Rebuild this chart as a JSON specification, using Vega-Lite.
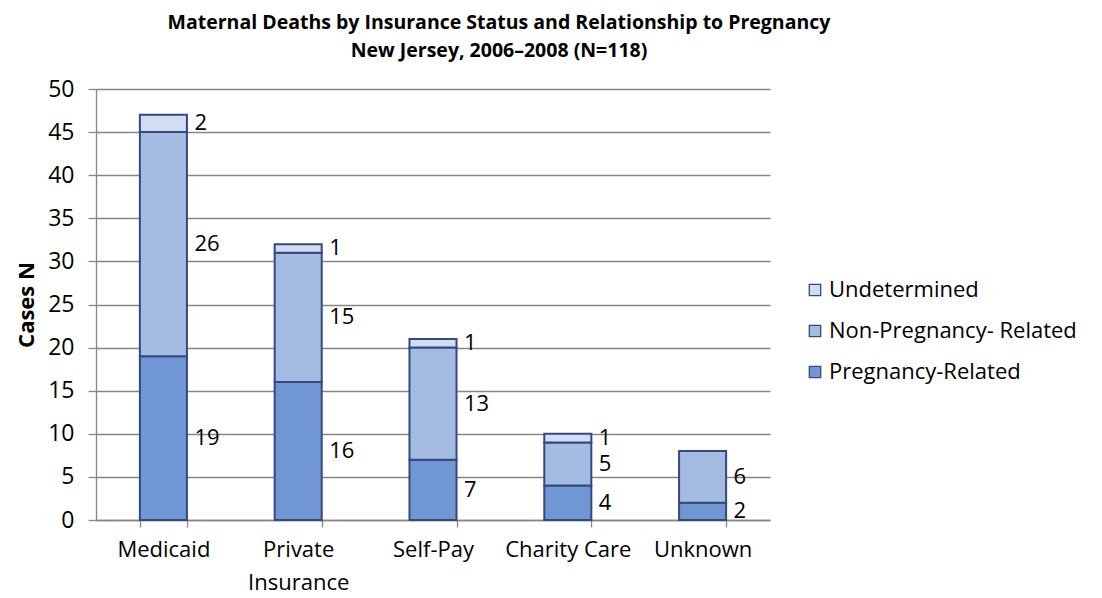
{
  "$schema": "https://vega.github.io/schema/vega-lite/v6.json",
  "width": 674,
  "height": 431,
  "autosize": "none",
  "padding": {"left": 96, "top": 89, "right": 332, "bottom": 78},
  "background": "white",
  "config": {
    "font": "Open Sans",
    "view": {"stroke": null}
  },
  "title": {
    "text": ["Maternal Deaths by Insurance Status and Relationship to Pregnancy", "New Jersey, 2006–2008 (N=118)"],
    "font": "Open Sans",
    "fontSize": 19.5,
    "fontWeight": "bold",
    "lineHeight": 28,
    "color": "#000000",
    "anchor": "middle",
    "frame": "group",
    "dx": 66,
    "offset": 17
  },
  "data": {
    "values": [
      {"ins": "Medicaid", "type": "Pregnancy-Related", "seq": 1, "n": 19},
      {"ins": "Medicaid", "type": "Non-Pregnancy- Related", "seq": 2, "n": 26},
      {"ins": "Medicaid", "type": "Undetermined", "seq": 3, "n": 2},
      {"ins": "Private Insurance", "type": "Pregnancy-Related", "seq": 1, "n": 16},
      {"ins": "Private Insurance", "type": "Non-Pregnancy- Related", "seq": 2, "n": 15},
      {"ins": "Private Insurance", "type": "Undetermined", "seq": 3, "n": 1},
      {"ins": "Self-Pay", "type": "Pregnancy-Related", "seq": 1, "n": 7},
      {"ins": "Self-Pay", "type": "Non-Pregnancy- Related", "seq": 2, "n": 13},
      {"ins": "Self-Pay", "type": "Undetermined", "seq": 3, "n": 1},
      {"ins": "Charity Care", "type": "Pregnancy-Related", "seq": 1, "n": 4},
      {"ins": "Charity Care", "type": "Non-Pregnancy- Related", "seq": 2, "n": 5},
      {"ins": "Charity Care", "type": "Undetermined", "seq": 3, "n": 1},
      {"ins": "Unknown", "type": "Pregnancy-Related", "seq": 1, "n": 2},
      {"ins": "Unknown", "type": "Non-Pregnancy- Related", "seq": 2, "n": 6}
    ]
  },
  "transform": [
    {"stack": "n", "groupby": ["ins"], "sort": [{"field": "seq", "order": "ascending"}], "as": ["y0", "y1"]},
    {"calculate": "(datum.y0 + datum.y1) / 2", "as": "mid"}
  ],
  "encoding": {
    "x": {
      "field": "ins",
      "type": "nominal",
      "sort": null,
      "scale": {"paddingInner": 0.651, "paddingOuter": 0.3255},
      "axis": {
        "title": null,
        "labelAngle": 0,
        "labelFont": "Open Sans",
        "labelFontSize": 22,
        "labelColor": "#000000",
        "labelPadding": 12,
        "labelLineHeight": 33,
        "labelBaseline": "top",
        "labelExpr": "datum.label == 'Private Insurance' ? ['Private', 'Insurance'] : datum.label",
        "tickBand": "extent",
        "tickSize": 7,
        "tickColor": "#868686",
        "tickWidth": 1.3,
        "domainColor": "#868686",
        "domainWidth": 1.3,
        "grid": false
      }
    }
  },
  "layer": [
    {
      "mark": {"type": "bar", "stroke": "#34497F", "strokeWidth": 2},
      "encoding": {
        "y": {
          "field": "y0",
          "type": "quantitative",
          "scale": {"domain": [0, 50]},
          "axis": {
            "title": "Cases N",
            "titleFont": "Open Sans",
            "titleFontSize": 22,
            "titleFontWeight": "bold",
            "titleColor": "#000000",
            "titlePadding": 9,
            "values": [0, 5, 10, 15, 20, 25, 30, 35, 40, 45, 50],
            "labelFont": "Open Sans",
            "labelFontSize": 23,
            "labelColor": "#000000",
            "labelPadding": 14,
            "tickSize": 8,
            "tickColor": "#868686",
            "tickWidth": 1.3,
            "domainColor": "#868686",
            "domainWidth": 1.3,
            "grid": true,
            "gridColor": "#868686",
            "gridWidth": 1.3
          }
        },
        "y2": {"field": "y1"},
        "color": {
          "field": "type",
          "type": "nominal",
          "scale": {
            "domain": ["Undetermined", "Non-Pregnancy- Related", "Pregnancy-Related"],
            "range": ["#D1DDF0", "#A4BBE2", "#7096D3"]
          },
          "legend": {
            "title": null,
            "orient": "none",
            "legendX": 708,
            "legendY": 190,
            "symbolType": "square",
            "symbolSize": 130,
            "symbolStrokeColor": "#34497F",
            "symbolStrokeWidth": 1.3,
            "symbolOpacity": 1,
            "labelFont": "Open Sans",
            "labelFontSize": 22,
            "labelColor": "#000000",
            "labelOffset": 3,
            "labelLimit": 400,
            "rowPadding": 19
          }
        }
      }
    },
    {
      "mark": {"type": "text", "align": "left", "baseline": "middle", "dx": 31, "fontSize": 22, "font": "Open Sans", "color": "#000000"},
      "encoding": {
        "y": {"field": "mid", "type": "quantitative"},
        "text": {"field": "n", "type": "quantitative"}
      }
    }
  ]
}
